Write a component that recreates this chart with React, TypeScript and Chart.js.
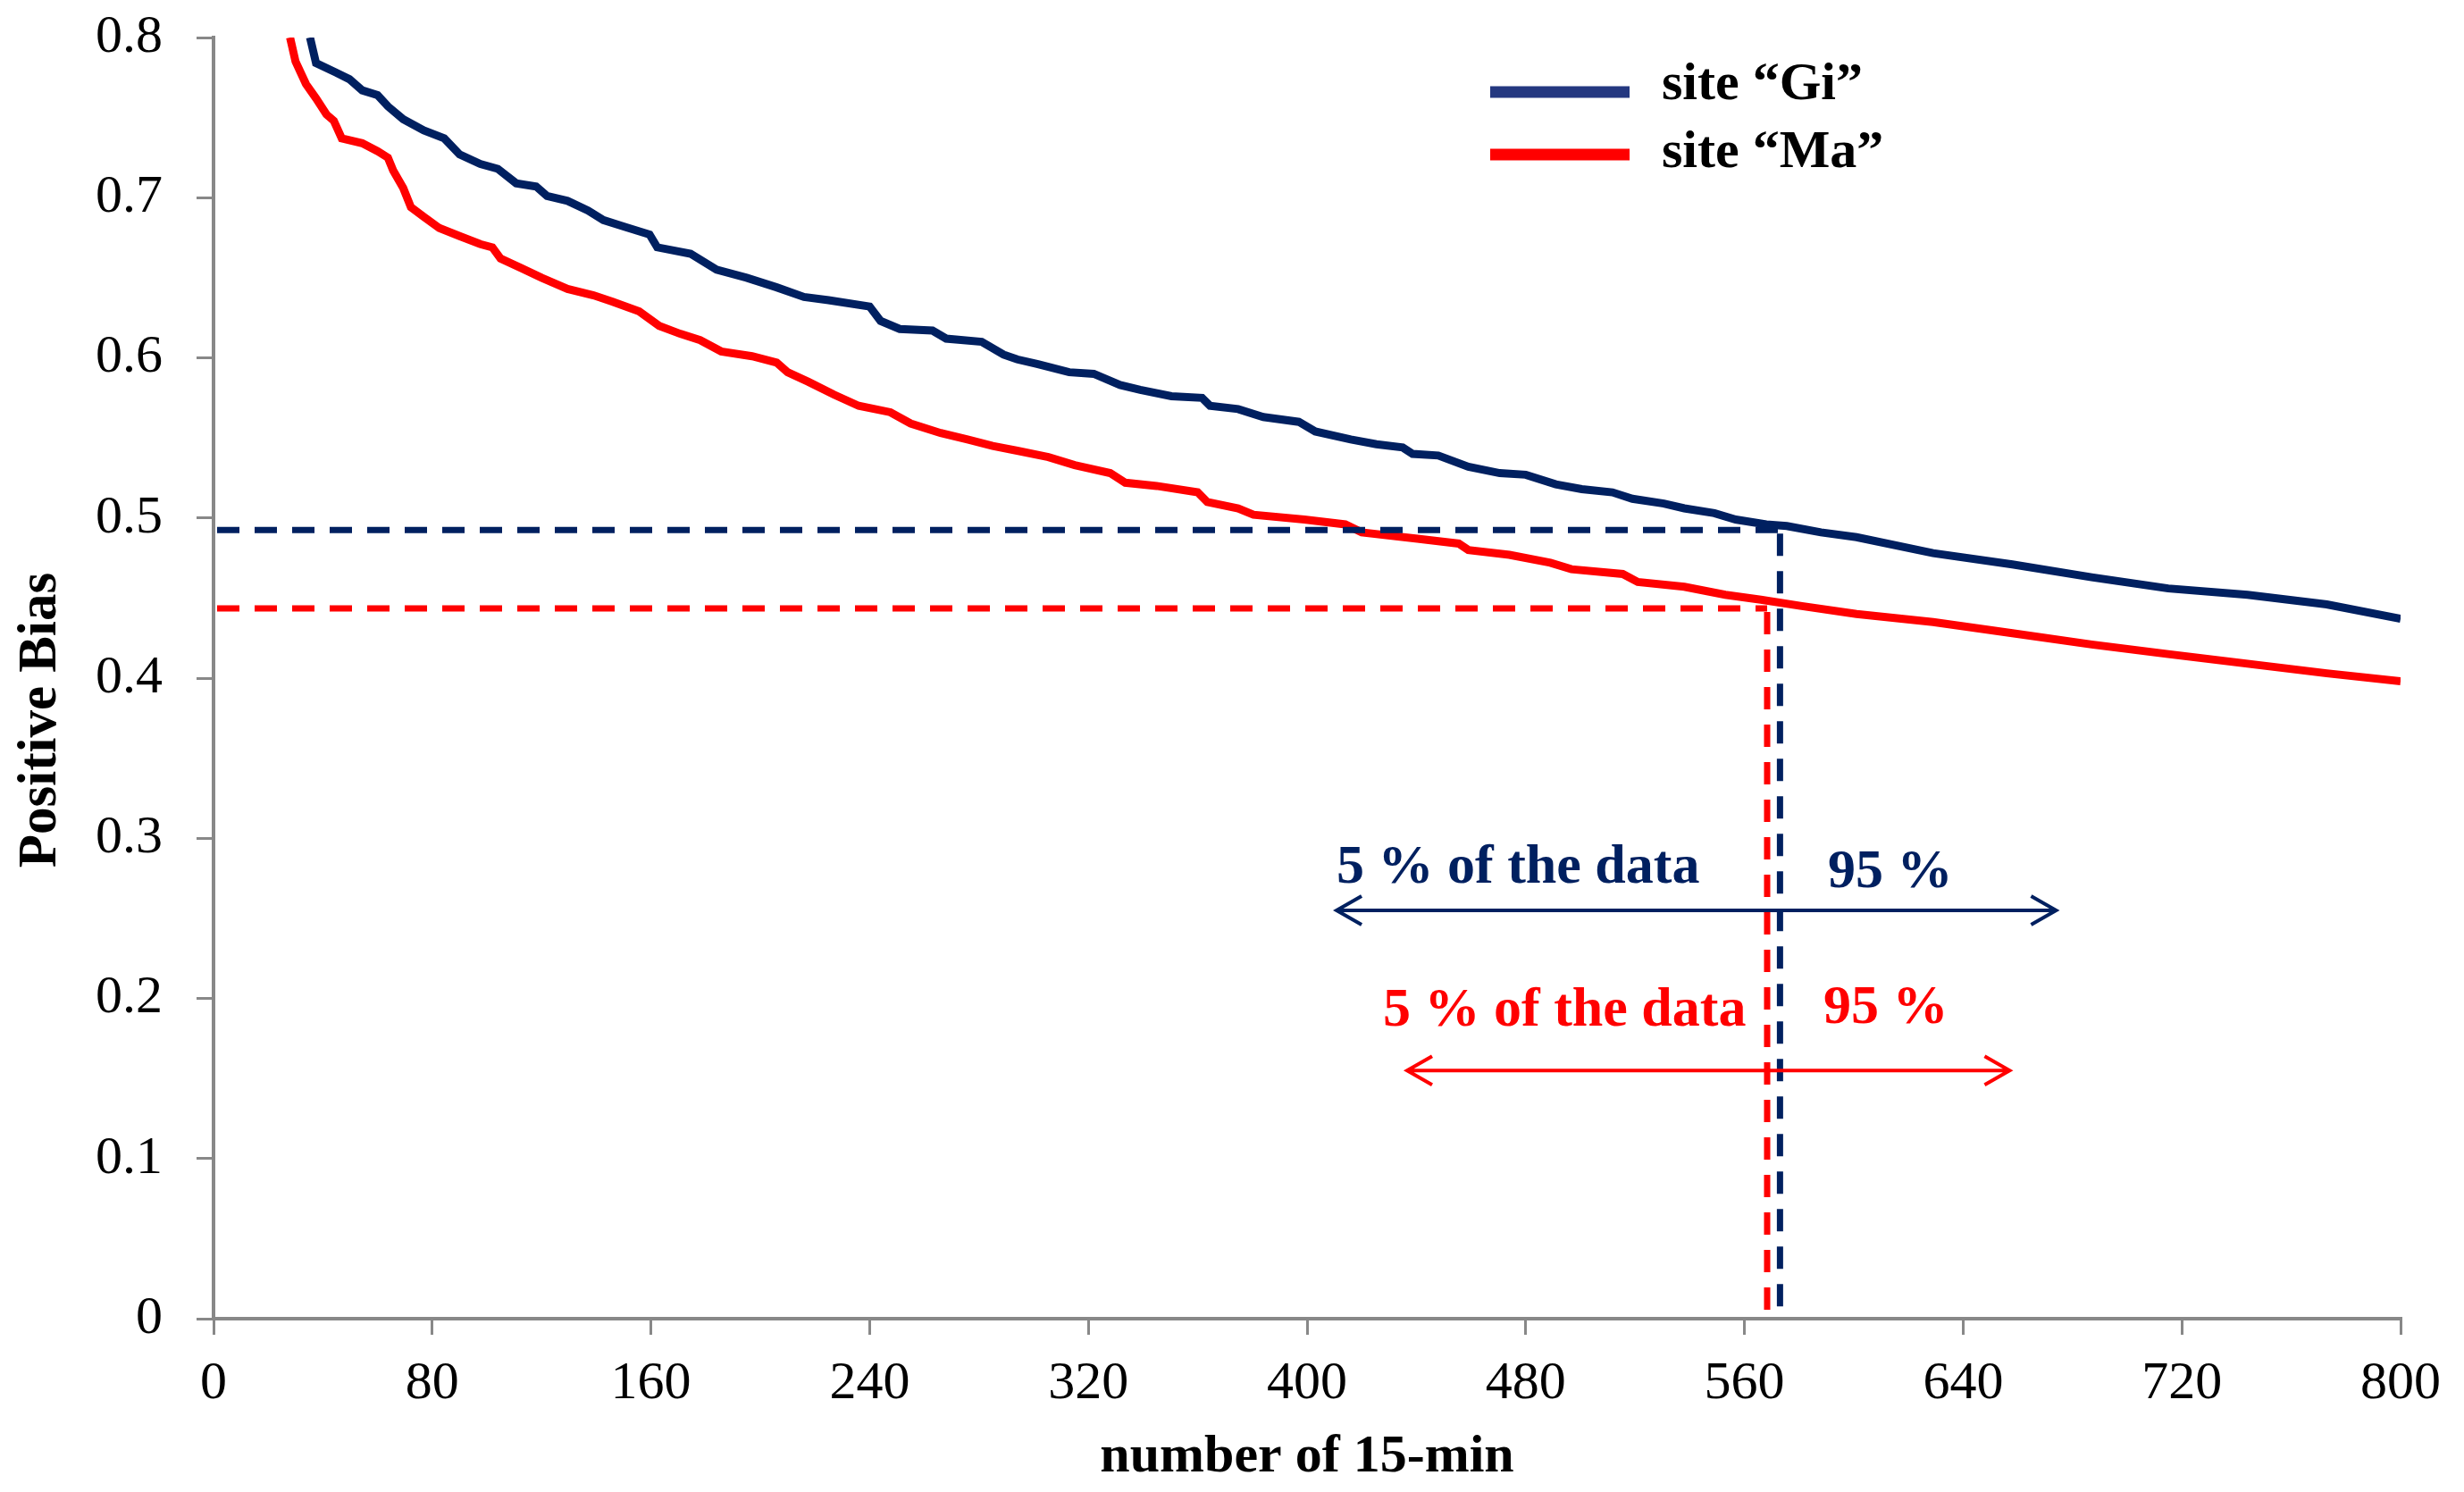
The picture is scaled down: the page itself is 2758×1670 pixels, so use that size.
import { useEffect, useRef } from "react"
import { Chart, registerables } from "chart.js"
import type { Plugin } from "chart.js"

Chart.register(...registerables)

const FONT = "'Liberation Serif', 'Times New Roman', serif"

// site "Gi"
const giX = [
  35.3, 37.5, 45, 49.7, 54.4, 60, 63.8, 69.4, 76.9, 84.4, 90, 97.6, 104, 110.7, 118, 122, 129.5, 137,
  142.6, 150, 159.5, 162.3, 174.5, 184, 195, 206, 216, 225, 240, 244, 251, 263, 268, 281, 289, 294,
  301.6, 313, 322, 331.6, 339, 350.4, 361.6, 364.5, 374.8, 384, 397, 403, 416, 425.4, 435, 438.6, 448,
  459, 470.5, 480, 491, 500.5, 511.7, 519, 530.5, 538, 549, 556.8, 568, 575.5, 588, 601, 629, 658, 687,
  715, 744, 773, 800,
]
const giY = [
  0.8, 0.784, 0.778, 0.774, 0.767, 0.764, 0.757, 0.749, 0.742, 0.737, 0.727, 0.721, 0.718, 0.709, 0.707,
  0.701, 0.698, 0.692, 0.686, 0.682, 0.677, 0.669, 0.665, 0.655, 0.65, 0.644, 0.638, 0.636, 0.632, 0.623,
  0.618, 0.617, 0.612, 0.61, 0.602, 0.599, 0.596, 0.591, 0.59, 0.583, 0.58, 0.576, 0.575, 0.57, 0.568,
  0.563, 0.56, 0.554, 0.549, 0.546, 0.544, 0.54, 0.539, 0.532, 0.528, 0.527, 0.521, 0.518, 0.516, 0.512,
  0.509, 0.506, 0.503, 0.499, 0.496, 0.495, 0.491, 0.488, 0.478, 0.471, 0.463, 0.456, 0.452, 0.446, 0.437,
]

// site "Ma"
const maX = [
  28, 30, 33.8, 37.5, 41.3, 44, 46.9, 54.4, 60, 63.8, 65.7, 69.4, 72.2, 77, 82.6, 90, 97.6, 102, 105,
  112.6, 120, 129.5, 139, 146, 155.7, 163, 170.7, 178, 185.7, 197, 206, 210, 217.6, 227, 236, 247.6, 255,
  266, 275.8, 285, 294, 305.4, 315, 328, 333.5, 345, 360, 363.5, 374.8, 380.4, 399, 414, 420, 440.4,
  455.5, 459, 474, 489, 496.7, 515.5, 521, 538, 553, 566, 581, 601, 629, 658, 687, 715, 744, 773, 800,
]
const maY = [
  0.8, 0.785, 0.771, 0.762, 0.752, 0.748, 0.737, 0.734, 0.729, 0.725, 0.717, 0.706, 0.694, 0.688, 0.681,
  0.676, 0.671, 0.669, 0.662, 0.656, 0.65, 0.643, 0.639, 0.635, 0.629, 0.62, 0.615, 0.611, 0.604, 0.601,
  0.597, 0.591, 0.585, 0.577, 0.57, 0.566, 0.559, 0.553, 0.549, 0.545, 0.542, 0.538, 0.533, 0.528, 0.522,
  0.52, 0.516, 0.51, 0.506, 0.502, 0.499, 0.496, 0.491, 0.487, 0.484, 0.48, 0.477, 0.472, 0.468, 0.465,
  0.46, 0.457, 0.452, 0.449, 0.445, 0.44, 0.435, 0.428, 0.421, 0.415, 0.409, 0.403, 0.398,
]

const siteLabels = ["site “Gi”", "site “Ma”"]
const lineColors = ["#002060", "#FF0000"]
const legendColors = ["#243880", "#FF0000"]

// 5 % cut-off of each site
const cutX = [573, 568.3]
const cutY = [0.4925, 0.4435]

// double arrows and their notes
const arrowY = [0.255, 0.155]
const arrowFrom = [410.8, 436.6]
const arrowTo = [674, 657]
const noteLeft = "5 % of the data"
const noteRight = "95 %"
const noteLeftX = [410.8, 427.8]
const noteLeftY = [0.2722, 0.1829]
const noteRightX = [590.5, 588.9]
const noteRightY = [0.2695, 0.1846]

const xTitle = "number of 15-min"
const yTitle = "Positive Bias"

const overlay: Plugin<"line"> = {
  id: "overlay",
  afterDatasetsDraw(chart) {
    const { ctx, chartArea: area } = chart
    const xs = chart.scales.x
    const ys = chart.scales.y
    ctx.save()

    // dashed guides
    ctx.lineWidth = 7
    ctx.setLineDash([25, 17])
    for (let i = 0; i < 2; i++) {
      const gx = xs.getPixelForValue(cutX[i])
      const gy = ys.getPixelForValue(cutY[i])
      ctx.strokeStyle = lineColors[i]
      ctx.beginPath()
      ctx.moveTo(area.left + 4, gy)
      ctx.lineTo(gx, gy)
      ctx.stroke()
      ctx.beginPath()
      ctx.moveTo(gx, gy + 4)
      ctx.lineTo(gx, ys.getPixelForValue(0) - 2)
      ctx.stroke()
    }
    ctx.setLineDash([])

    // arrows
    ctx.lineWidth = 4
    for (let i = 0; i < 2; i++) {
      const y = ys.getPixelForValue(arrowY[i])
      const a = xs.getPixelForValue(arrowFrom[i])
      const b = xs.getPixelForValue(arrowTo[i])
      ctx.strokeStyle = lineColors[i]
      ctx.beginPath()
      ctx.moveTo(a, y)
      ctx.lineTo(b, y)
      ctx.moveTo(a + 28, y - 16)
      ctx.lineTo(a, y)
      ctx.lineTo(a + 28, y + 16)
      ctx.moveTo(b - 28, y - 16)
      ctx.lineTo(b, y)
      ctx.lineTo(b - 28, y + 16)
      ctx.stroke()
    }

    // notes
    ctx.font = `bold 62px ${FONT}`
    ctx.textAlign = "left"
    ctx.textBaseline = "alphabetic"
    for (let i = 0; i < 2; i++) {
      ctx.fillStyle = lineColors[i]
      ctx.fillText(noteLeft, xs.getPixelForValue(noteLeftX[i]), ys.getPixelForValue(noteLeftY[i]))
      ctx.fillText(noteRight, xs.getPixelForValue(noteRightX[i]), ys.getPixelForValue(noteRightY[i]))
    }

    // legend
    ctx.font = `bold 60px ${FONT}`
    for (let i = 0; i < 2; i++) {
      const ly = area.top + 61 + i * 70
      ctx.fillStyle = legendColors[i]
      ctx.fillRect(area.left + 1429, ly - 6.5, 156, 13)
      ctx.fillStyle = "#000"
      ctx.fillText(siteLabels[i], area.left + 1621, ly + 8 + i * 6)
    }

    // axis titles
    ctx.fillStyle = "#000"
    ctx.textAlign = "center"
    ctx.fillText(xTitle, (area.left + area.right) / 2, area.bottom + 171)
    ctx.translate(62, (area.top + area.bottom) / 2 + 47)
    ctx.rotate(-Math.PI / 2)
    ctx.font = `bold 61px ${FONT}`
    ctx.fillText(yTitle, 0, 0)

    ctx.restore()
  },
}

export default function App() {
  const chartRef = useRef<HTMLCanvasElement>(null)
  const chartInstance = useRef<Chart | null>(null)

  useEffect(() => {
    if (!chartRef.current) return
    if (chartInstance.current) chartInstance.current.destroy()
    const ctx = chartRef.current.getContext("2d")
    if (!ctx) return

    chartInstance.current = new Chart(ctx, {
      type: "line",
      data: {
        datasets: [
          {
            label: siteLabels[0],
            data: giX.map((x, i) => ({ x, y: giY[i] })),
            borderColor: lineColors[0],
            borderWidth: 9,
            pointRadius: 0,
            tension: 0,
            fill: false,
            clip: 0,
          },
          {
            label: siteLabels[1],
            data: maX.map((x, i) => ({ x, y: maY[i] })),
            borderColor: lineColors[1],
            borderWidth: 9,
            pointRadius: 0,
            tension: 0,
            fill: false,
            clip: 0,
          },
        ],
      },
      options: {
        responsive: true,
        maintainAspectRatio: false,
        animation: false,
        devicePixelRatio: 1,
        layout: { padding: { top: 42, right: 71, left: 0, bottom: 0 } },
        plugins: {
          legend: { display: false },
          tooltip: { enabled: false },
        },
        scales: {
          x: {
            type: "linear",
            min: 0,
            max: 800,
            ticks: {
              stepSize: 80,
              autoSkip: false,
              maxRotation: 0,
              padding: 19,
              color: "#000",
              font: { family: FONT, size: 60 },
            },
            grid: { drawOnChartArea: false, tickLength: 18, color: "#888", lineWidth: 3 },
            border: { color: "#888", width: 4 },
            afterFit: (scale) => {
              scale.height = 194
            },
          },
          y: {
            min: 0,
            max: 0.8,
            ticks: {
              stepSize: 0.1,
              padding: 38,
              color: "#000",
              font: { family: FONT, size: 60 },
              callback: (v) => (Number(v) === 0 ? "0" : Number(v).toFixed(1)),
            },
            grid: { drawOnChartArea: false, tickLength: 19, color: "#888", lineWidth: 3 },
            border: { color: "#888", width: 4 },
            afterFit: (scale) => {
              scale.width = 239
              // label padding would otherwise push the plot top down
              scale.paddingTop = 0
              scale.paddingBottom = 0
            },
          },
        },
      },
      plugins: [overlay],
    })

    return () => {
      if (chartInstance.current) {
        chartInstance.current.destroy()
        chartInstance.current = null
      }
    }
  }, [])

  return (
    <div style={{ position: "fixed", left: 0, top: 0, width: 2758, height: 1670, background: "#fff" }}>
      <canvas ref={chartRef}></canvas>
    </div>
  )
}
